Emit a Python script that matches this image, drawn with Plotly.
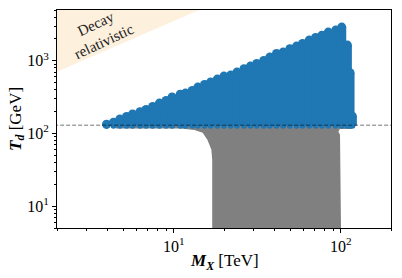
import math
import plotly.graph_objects as go

# ---- data ----
# blue region: columns of points (M_X in TeV) with their highest T_d (GeV)
blue_M = [3.96, 4.36, 4.76, 5.22, 5.67, 6.28, 6.83, 7.48, 8.21, 9.00, 9.78, 10.94,
          11.76, 12.90, 13.94, 15.29, 16.62, 18.23, 19.98, 21.91, 23.91, 26.34,
          28.79, 31.41, 34.60, 37.59, 41.25, 45.19, 49.58, 54.39, 59.10, 64.75,
          70.75, 77.18, 84.22, 93.32, 101.4, 109.6, 113.7, 117.4]
blue_Tmax = [134, 143, 158, 171, 185, 199, 214, 235, 262, 284, 317, 346,
             359, 390, 435, 472, 509, 560, 616, 636, 699, 776,
             845, 918, 1009, 1124, 1260, 1318, 1463, 1594, 1730, 1927,
             2093, 2244, 2483, 2647, 2911, 1645, 684, 173]
blue_Tmin = 128

# gray region outline (M_X in TeV, T_d in GeV)
gray_M = [4.5, 116.5, 116.5, 98.9, 96.8, 99.0, 100.5, 17.0, 17.0, 16.8, 15.9, 14.9, 13.3, 11.0, 4.5]
gray_T = [138, 138, 115, 115, 106, 96, 4, 4, 43, 60, 82, 102, 112, 117, 117]

# "decay relativistic" boundary line
decay_M = [1.5, 20.0]
decay_T = [530, 7060]

# horizontal reference temperature
T_ref = 130
x_range = [2, 200]
y_range = [5, 5000]

x_ticks = [10, 100]
x_ticktext = ["10<sup>1</sup>", "10<sup>2</sup>"]
y_ticks = [10, 100, 1000]
y_ticktext = ["10<sup>1</sup>", "10<sup>2</sup>", "10<sup>3</sup>"]

FONT = "Liberation Serif"
BLUE = "#1f77b4"

fig = go.Figure()

# relativistic region
fig.add_trace(go.Scatter(
    x=[decay_M[0], decay_M[1], decay_M[0]],
    y=[decay_T[0], decay_T[1], decay_T[1]],
    fill="toself", fillcolor="#fdf0dc", mode="lines", line=dict(width=0),
    hoverinfo="skip", showlegend=False))

# gray region
fig.add_trace(go.Scatter(
    x=gray_M, y=gray_T, fill="toself", fillcolor="#808080", mode="lines",
    line=dict(width=0), hoverinfo="skip", showlegend=False))

# blue columns
cx, cy = [], []
for m, t in zip(blue_M, blue_Tmax):
    cx += [m, m, None]
    cy += [blue_Tmin, t, None]
fig.add_trace(go.Scatter(x=cx, y=cy, mode="lines", line=dict(color=BLUE, width=9),
                         hoverinfo="skip", showlegend=False))
fig.add_trace(go.Scatter(x=blue_M, y=blue_Tmax, mode="markers",
                         marker=dict(color=BLUE, size=9, line=dict(width=0)),
                         showlegend=False))
fig.add_trace(go.Scatter(x=blue_M, y=[blue_Tmin] * len(blue_M), mode="markers",
                         marker=dict(color=BLUE, size=6, line=dict(width=0)),
                         showlegend=False))

# dashed reference line
fig.add_trace(go.Scatter(x=[1.5, 300], y=[T_ref, T_ref], mode="lines",
                         line=dict(color="rgba(0,0,0,0.55)", width=1, dash="4px,2px"),
                         hoverinfo="skip", showlegend=False))

fig.add_annotation(x=math.log10(3.6), y=math.log10(2450), xref="x", yref="y",
                   text="Decay<br>relativistic", showarrow=False, textangle=-25,
                   font=dict(family=FONT, size=15, color="#222"), align="center")

# axis titles
fig.add_annotation(x=0.5, y=-0.156, xref="paper", yref="paper",
                   text="<b><i>M<sub>X</sub></i></b> [TeV]", showarrow=False,
                   xanchor="center", yanchor="middle",
                   font=dict(family=FONT, size=17, color="black"))
fig.add_annotation(x=-0.12, y=0.5, xref="paper", yref="paper",
                   text="<b><i>T<sub>d</sub></i></b> [GeV]", showarrow=False,
                   xanchor="center", yanchor="middle", textangle=-90,
                   font=dict(family=FONT, size=17, color="black"))

axis_common = dict(showline=True, linecolor="black", linewidth=1, mirror=True,
                   showgrid=False, zeroline=False, ticks="outside", ticklen=4,
                   tickcolor="black", automargin=False,
                   tickfont=dict(family=FONT, size=16, color="black"))

fig.update_xaxes(type="log", range=[math.log10(x_range[0]), math.log10(x_range[1])],
                 tickmode="array", tickvals=x_ticks, ticktext=x_ticktext,
                 minor=dict(tickmode="array",
                            tickvals=[2, 3, 4, 5, 6, 7, 8, 9, 20, 30, 40, 50, 60, 70, 80, 90, 200],
                            ticks="outside", ticklen=2, tickcolor="black", showgrid=False),
                 **axis_common)
fig.update_yaxes(type="log", range=[math.log10(y_range[0]), math.log10(y_range[1])],
                 tickmode="array", tickvals=y_ticks, ticktext=y_ticktext,
                 minor=dict(tickmode="array",
                            tickvals=[5, 6, 7, 8, 9, 20, 30, 40, 50, 60, 70, 80, 90,
                                      200, 300, 400, 500, 600, 700, 800, 900, 2000, 3000, 4000, 5000],
                            ticks="outside", ticklen=2, tickcolor="black", showgrid=False),
                 **axis_common)

fig.update_layout(width=402, height=278, margin=dict(l=57, r=11, t=10, b=50),
                  paper_bgcolor="white", plot_bgcolor="white", showlegend=False)

fig.write_html("out.html", config={"displayModeBar": False},
               post_script="document.body.style.margin='0';document.body.style.padding='0';")
